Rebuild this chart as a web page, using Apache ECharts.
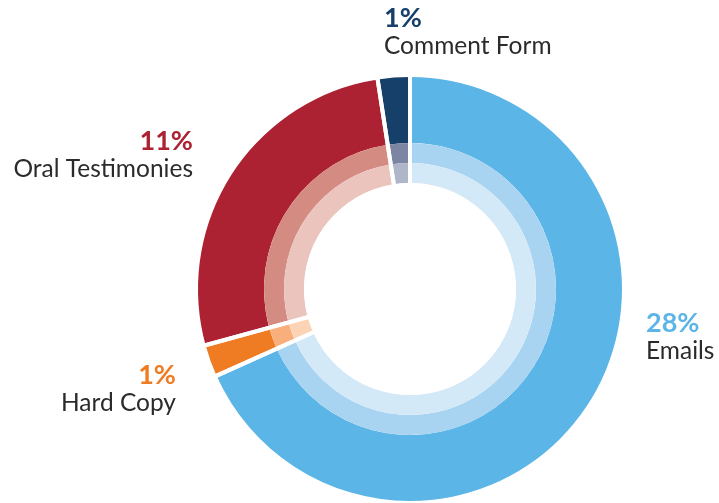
<!DOCTYPE html>
<html>
<head>
<meta charset="utf-8">
<script src="https://cdn.jsdelivr.net/npm/echarts@6/dist/echarts.min.js"></script>
<style>
html,body{margin:0;padding:0;background:#fff;}
#c{width:719px;height:503px;}
</style>
</head>
<body>
<div id="c"></div>
<script>
// ---- data ----
var categories = ['Emails', 'Hard Copy', 'Oral Testimonies', 'Comment Form'];
var values = [28, 1, 11, 1];

// ---- styling ----
var outerColors = ['#5BB5E6', '#EF7B22', '#AC2232', '#163F6A'];
var midColors   = ['#A9D4F1', '#F9AF7C', '#D48B82', '#7C85A1'];
var innerColors = ['#D4E9F8', '#FDD3B6', '#EBC4BE', '#B0B6C9'];
var labelAnchor = [
  {x: 646, y: 309, align: 'left'},
  {x: 176, y: 361, align: 'right'},
  {x: 193, y: 127, align: 'right'},
  {x: 384, y: 4,   align: 'left'}
];
var center = [410, 289];

function ringData(colors, withLabel) {
  return categories.map(function (name, i) {
    var item = {name: name, value: values[i], itemStyle: {color: colors[i]}};
    if (withLabel) {
      item.label = {
        show: true,
        formatter: '{p|{c}%}\n{n|{b}}',
        align: labelAnchor[i].align,
        rich: {
          p: {fontFamily: 'Lato', fontWeight: 'bold', fontSize: 27, color: outerColors[i], lineHeight: 28, align: labelAnchor[i].align},
          n: {fontFamily: 'Lato', fontSize: 24.5, color: '#2b2b2b', lineHeight: 29, align: labelAnchor[i].align}
        }
      };
    }
    return item;
  });
}

function ring(radius, colors, withLabel) {
  return {
    type: 'pie',
    center: center,
    radius: radius,
    startAngle: 90,
    clockwise: true,
    silent: true,
    animation: false,
    avoidLabelOverlap: false,
    label: {show: false},
    labelLine: {show: false},
    emphasis: {disabled: true},
    labelLayout: withLabel ? function (p) {
      var a = labelAnchor[p.dataIndex];
      return {x: a.x, y: a.y, align: a.align, verticalAlign: 'top'};
    } : undefined,
    data: ringData(colors, withLabel),
    z: 2
  };
}

var chart = echarts.init(document.getElementById('c'), null, {renderer: 'canvas'});
var overlay = {
  type: 'pie',
  center: center,
  radius: [104, 216],
  startAngle: 90,
  clockwise: true,
  silent: true,
  animation: false,
  label: {show: false},
  labelLine: {show: false},
  emphasis: {disabled: true},
  itemStyle: {color: 'rgba(0,0,0,0)', borderColor: '#ffffff', borderWidth: 4},
  data: categories.map(function (name, i) { return {name: name, value: values[i]}; }),
  z: 5
};
chart.setOption({
  backgroundColor: '#ffffff',
  animation: false,
  series: [
    ring([146, 212], outerColors, true),
    ring([126, 146], midColors, false),
    ring([106, 126], innerColors, false),
    overlay
  ]
});
</script>
</body>
</html>
